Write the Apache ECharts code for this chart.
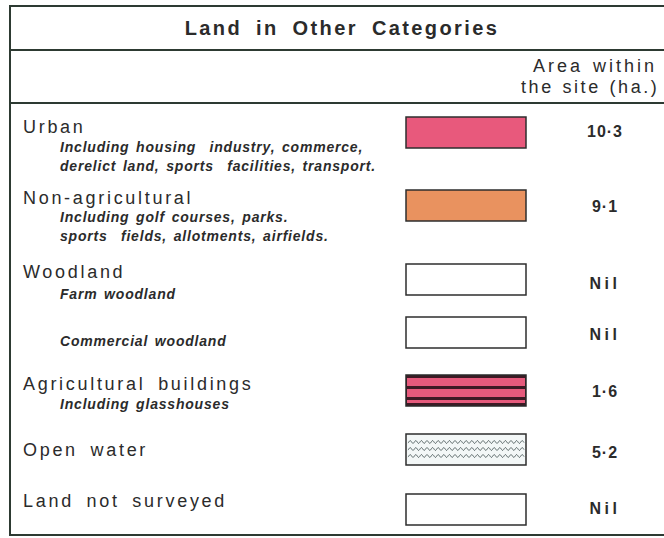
<!DOCTYPE html>
<html><head><meta charset="utf-8">
<script src="https://cdn.jsdelivr.net/npm/echarts@6/dist/echarts.min.js"></script>
<style>html,body{margin:0;padding:0;background:#fff}#c{width:664px;height:538px}</style>
</head><body><div id="c"></div>
<script>
// ---- data ----
const title = 'Land in Other Categories';
const headerLines = ['Area within', 'the site (ha.)'];
const categories = ['Urban', 'Non-agricultural', 'Woodland', '', 'Agricultural buildings', 'Open water', 'Land not surveyed'];
const descriptions = [
  ['Including housing  industry, commerce,', 'derelict land, sports  facilities, transport.'],
  ['Including golf courses, parks.', 'sports  fields, allotments, airfields.'],
  ['Farm woodland'],
  ['Commercial woodland'],
  ['Including glasshouses'],
  [],
  []
];
const areaLabels = ['10·3', '9·1', 'Nil', 'Nil', '1·6', '5·2', 'Nil'];
const swatchTypes = ['urban', 'nonag', 'empty', 'empty', 'striped', 'water', 'empty'];

// ---- layout / style ----
const FONT = '"Liberation Sans", Arial, Helvetica, sans-serif';
const INK = '#2b2b2b';
const RULE = '#2d3a32';
const labelY = [127, 198, 272, null, 384, 450, 501];
const descY = [147, 217, 294, 341, 404, null, null];
const descStep = 19;
const boxY = [117, 190, 264, 317, 375, 434, 494];
const valueY = [131, 206, 283, 334, 391, 452, 508];
const boxX = 406, boxW = 120, boxH = 31, valueX = 605;
const swatchFill = { urban: '#e8597c', nonag: '#e9925f', empty: '#ffffff', striped: '#e65a7c', water: '#f3f7f7' };

const spacing = new Map();
const els = [];

// frame
els.push({ type: 'rect', shape: { x: 10, y: 6, width: 670, height: 529 }, style: { fill: '#fff', stroke: RULE, lineWidth: 2 } });
els.push({ type: 'line', shape: { x1: 10, y1: 50, x2: 680, y2: 50 }, style: { stroke: RULE, lineWidth: 2 } });
els.push({ type: 'line', shape: { x1: 10, y1: 103, x2: 680, y2: 103 }, style: { stroke: RULE, lineWidth: 2 } });

function txt(text, x, y, font, align, sp, ws) {
  spacing.set(text, [sp, ws || 0]);
  els.push({ type: 'text', x: x, y: y, silent: true,
    style: { text: text, font: font, fill: INK, textAlign: align, textVerticalAlign: 'middle' } });
}

txt(title, 342, 28, 'bold 20px ' + FONT, 'center', 2.4, 6);
txt(headerLines[0], 533, 66, '18px ' + FONT, 'left', 3, 2);
txt(headerLines[1], 521, 87, '18px ' + FONT, 'left', 2.6, 1);

categories.forEach(function (name, i) {
  if (name) txt(name, 23, labelY[i], '18px ' + FONT, 'left', 2.7, 5);
  descriptions[i].forEach(function (d, j) {
    txt(d, 60, descY[i] + j * descStep, 'italic bold 14px ' + FONT, 'left', 0.8, 2);
  });
  const lab = areaLabels[i];
  txt(lab, valueX, valueY[i], 'bold 16px ' + FONT, 'center', /\d/.test(lab) ? 1 : 3.5);

  const t = swatchTypes[i], y = boxY[i];
  if (t === 'striped') {
    els.push({ type: 'rect', shape: { x: boxX, y: y, width: boxW, height: boxH }, style: { fill: '#3d1a24', stroke: '#2a2a2a', lineWidth: 1.5 } });
    [[3, 8], [14, 8], [25, 3]].forEach(function (b) {
      els.push({ type: 'rect', shape: { x: boxX + 1, y: y + b[0], width: boxW - 2, height: b[1] }, style: { fill: swatchFill.striped } });
    });
  } else {
    els.push({ type: 'rect', shape: { x: boxX, y: y, width: boxW, height: boxH }, style: { fill: swatchFill[t], stroke: '#2e2e2e', lineWidth: 1.5 } });
    if (t === 'water') {
      [8, 15, 22].forEach(function (off) {
        const pts = [];
        for (let x = boxX + 2; x <= boxX + boxW - 2; x += 0.5) {
          pts.push([x, y + off + 1.4 * Math.sin((x - boxX) * Math.PI / 2.8)]);
        }
        els.push({ type: 'polyline', shape: { points: pts }, style: { stroke: '#4f5c5e', lineWidth: 0.9, fill: null } });
      });
    }
  }
});

const chart = echarts.init(document.getElementById('c'), null, { renderer: 'svg' });
chart.setOption({ animation: false, backgroundColor: '#ffffff', graphic: { elements: els } });

function applySpacing() {
  document.querySelectorAll('#c text').forEach(function (t) {
    const s = spacing.get(t.textContent);
    if (s) {
      t.style.letterSpacing = s[0] + 'px';
      if (s[1]) t.style.wordSpacing = s[1] + 'px';
    }
  });
}
chart.on('finished', applySpacing);
applySpacing();
setTimeout(applySpacing, 50);
setTimeout(applySpacing, 300);
</script></body></html>
